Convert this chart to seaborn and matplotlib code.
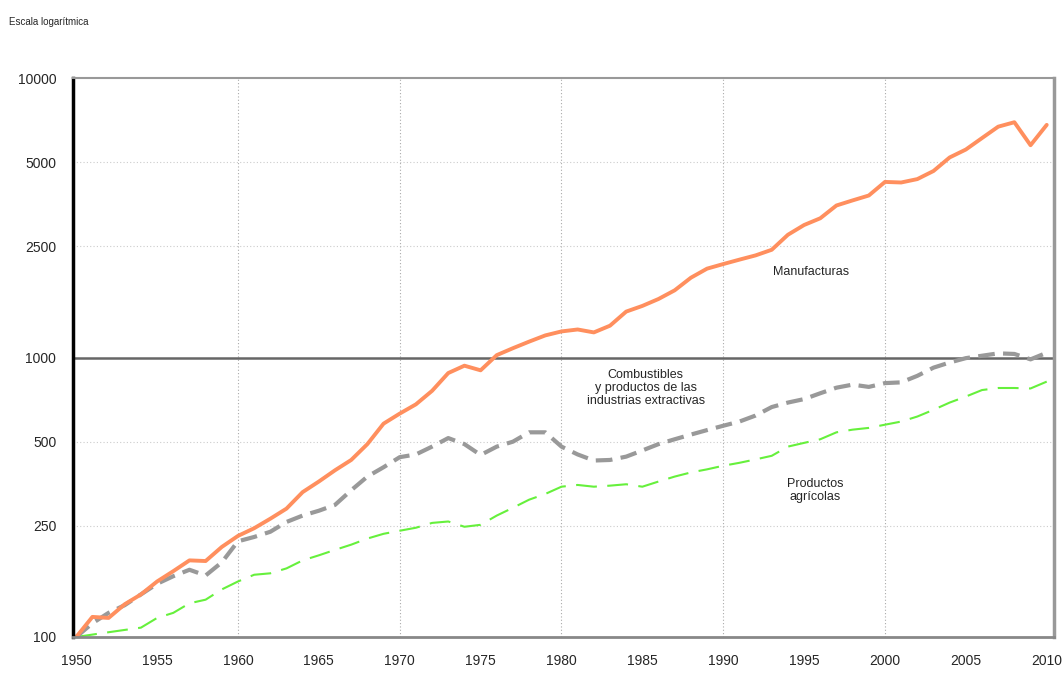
import numpy as np
import matplotlib
matplotlib.use("Agg")
import matplotlib.pyplot as plt
import matplotlib.ticker as mticker
import pandas as pd
import seaborn as sns

years = list(range(1950, 2011))

manufacturas = [100, 118, 117, 131, 142, 158, 172, 188, 187, 210,
                230, 245, 265, 288, 330, 360, 395, 430, 490, 580,
                630, 680, 760, 880, 935, 900, 1020, 1080, 1140, 1200,
                1240, 1260, 1230, 1300, 1460, 1530, 1620, 1740, 1930, 2080,
                2160, 2240, 2320, 2430, 2750, 2980, 3150, 3500, 3650, 3800,
                4250, 4230, 4350, 4650, 5200, 5550, 6100, 6700, 6950, 5750,
                6800]

combustibles = [100, 112, 122, 130, 142, 155, 165, 174, 166, 185,
                220, 228, 238, 258, 272, 283, 297, 335, 375, 405,
                440, 450, 480, 515, 490, 448, 480, 500, 540, 540,
                480, 450, 428, 430, 442, 465, 490, 510, 530, 550,
                570, 590, 620, 665, 690, 710, 745, 780, 800, 785,
                810, 815, 860, 920, 960, 995, 1015, 1035, 1030, 985,
                1040]

agricolas = [100, 102, 104, 106, 108, 117, 122, 132, 136, 148,
             158, 167, 169, 176, 188, 196, 205, 214, 225, 234,
             240, 246, 256, 259, 248, 252, 272, 290, 310, 325,
             345, 350, 345, 348, 352, 345, 360, 375, 388, 398,
             410, 420, 432, 445, 480, 495, 510, 540, 552, 560,
             575, 590, 615, 650, 690, 725, 765, 778, 778, 775,
             820]

y_ticks = [100, 250, 500, 1000, 2500, 5000, 10000]
x_ticks = list(range(1950, 2011, 5))

df = pd.DataFrame({"year": years, "Manufacturas": manufacturas,
                   "Combustibles": combustibles, "Agricolas": agricolas})

sns.set_style("white")
plt.rcParams["font.family"] = ["Liberation Sans", "DejaVu Sans"]

fig = plt.figure(figsize=(10.64, 6.73), dpi=100)
ax = fig.add_axes([0.0686, 0.0535, 0.922, 0.8305])

sns.lineplot(data=df, x="year", y="Agricolas", ax=ax, color="#66f03c",
             linewidth=1.5)
ax.lines[-1].set_dashes([10, 5])
sns.lineplot(data=df, x="year", y="Combustibles", ax=ax, color="#999999",
             linewidth=3)
ax.lines[-1].set_dashes([4, 2])
sns.lineplot(data=df, x="year", y="Manufacturas", ax=ax, color="#ff8f5e",
             linewidth=2.8)
for ln in ax.lines:
    ln.set_solid_joinstyle("round")
    ln.set_dash_joinstyle("round")

ax.set_yscale("log")
ax.set_ylim(100, 10000)
ax.set_xlim(1949.8, 2010.45)

# linea de referencia en 1000 y cuadricula punteada
ax.axhline(1000, color="#666666", linewidth=1.8, zorder=1)
for v in [250, 500, 2500, 5000]:
    ax.axhline(v, color="#cccccc", linewidth=0.8, linestyle=(0, (1, 2)), zorder=0)
for yr in [1960, 1970, 1980, 1990, 2000]:
    ax.axvline(yr, color="#aaaaaa", linewidth=0.8, linestyle=(0, (1, 2)), zorder=0)

ax.yaxis.set_major_locator(mticker.FixedLocator(y_ticks))
ax.yaxis.set_minor_locator(mticker.NullLocator())
ax.set_yticklabels([str(v) for v in y_ticks])
ax.set_xticks(x_ticks)
ax.set_xticklabels([str(v) for v in x_ticks])
ax.xaxis.set_minor_locator(mticker.MultipleLocator(1))
ax.tick_params(axis="x", which="both", direction="in", length=4, width=1,
               color="black", labelsize=10, pad=12)
ax.tick_params(axis="y", which="major", direction="out", length=4, width=0.8,
               color="#bbbbbb", labelsize=10, pad=8)
ax.set_xlabel("")
ax.set_ylabel("")

ax.spines["left"].set_color("black")
ax.spines["left"].set_linewidth(2.5)
ax.spines["bottom"].set_color("#888888")
ax.spines["bottom"].set_linewidth(2)
ax.spines["top"].set_color("#999999")
ax.spines["top"].set_linewidth(1.5)
ax.spines["right"].set_color("#999999")
ax.spines["right"].set_linewidth(2.5)

ax.text(1995.4, 2030, "Manufacturas", fontsize=9, ha="center", va="center")
ax.text(1985.2, 780, "Combustibles\ny productos de las\nindustrias extractivas",
        fontsize=9, ha="center", va="center", linespacing=1.1)
ax.text(1995.7, 335, "Productos\nagrícolas", fontsize=9, ha="center",
        va="center", linespacing=1.1)

fig.text(0.008, 0.967, "Escala logarítmica", fontsize=7, ha="left", va="center")

fig.savefig("out.png", dpi=100)
